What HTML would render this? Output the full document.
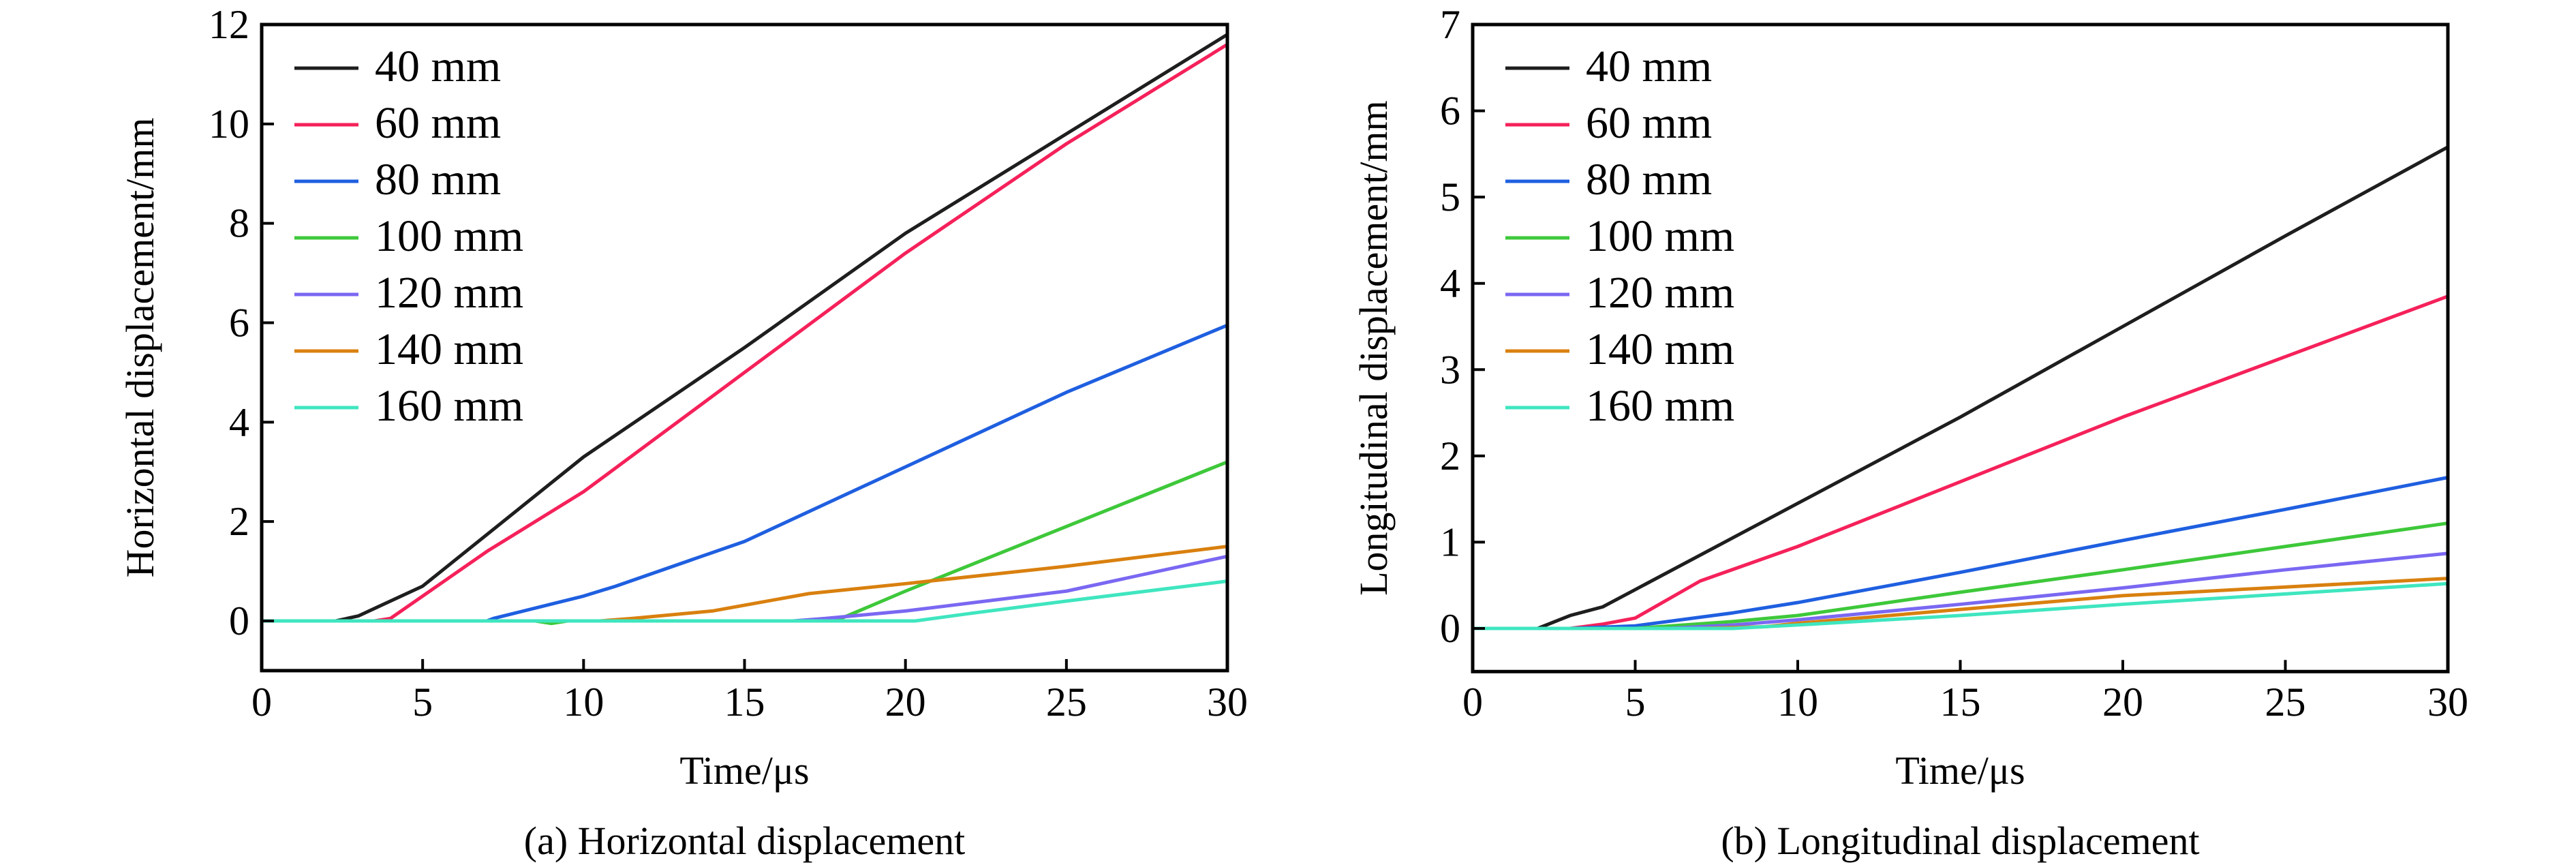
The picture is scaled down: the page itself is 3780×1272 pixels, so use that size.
<!DOCTYPE html>
<html><head><meta charset="utf-8"><style>
html,body{margin:0;padding:0;background:#fff}
svg{display:block;font-family:"Liberation Serif",serif}
</style></head><body>
<svg id="chart" width="3780" height="1272" viewBox="0 0 3780 1272" xmlns="http://www.w3.org/2000/svg"></svg>
<script>
const seriesNames = ["40 mm","60 mm","80 mm","100 mm","120 mm","140 mm","160 mm"];
const seriesColors = ["#1e1e1e","#f5215a","#1f5fe0","#3ec83a","#7a68f2","#d9800f","#3fe6bf"];
const xTicks = [0,5,10,15,20,25,30];
const yTicksA = [0,2,4,6,8,10,12];
const yTicksB = [0,1,2,3,4,5,6,7];
const dataA = [
 [[0,0],[2.3,0],[3,0.1],[5,0.7],[7.5,2],[10,3.3],[15,5.5],[20,7.8],[25,9.8],[30,11.8]],
 [[0,0],[3.5,0],[4,0.05],[5,0.5],[7,1.4],[10,2.6],[15,5],[20,7.4],[25,9.6],[30,11.6]],
 [[0,0],[7,0],[7.2,0.05],[10,0.5],[11,0.7],[15,1.6],[20,3.1],[25,4.6],[30,5.95]],
 [[0,0],[8.5,0],[9,-0.05],[9.5,0],[17,0],[18,0.05],[20,0.6],[25,1.9],[30,3.2]],
 [[0,0],[16.5,0],[17.5,0.05],[20,0.2],[25,0.6],[30,1.3]],
 [[0,0],[10.5,0],[11.5,0.05],[14,0.2],[17,0.55],[20,0.75],[25,1.1],[30,1.5]],
 [[0,0],[20.3,0],[22,0.15],[25,0.4],[30,0.8]]
];
const dataB = [
 [[0,0],[2,0],[3,0.15],[4,0.25],[5,0.45],[10,1.45],[15,2.45],[20,3.5],[25,4.55],[30,5.58]],
 [[0,0],[3,0],[4,0.05],[5,0.12],[7,0.55],[10,0.95],[15,1.7],[20,2.45],[25,3.15],[30,3.85]],
 [[0,0],[3,0],[5,0.03],[8,0.18],[10,0.3],[15,0.65],[20,1.02],[25,1.38],[30,1.75]],
 [[0,0],[5,0],[8,0.08],[10,0.15],[15,0.42],[20,0.68],[25,0.95],[30,1.22]],
 [[0,0],[6,0],[8,0.04],[10,0.1],[15,0.28],[20,0.47],[25,0.68],[30,0.87]],
 [[0,0],[7,0],[9,0.02],[10,0.06],[15,0.22],[20,0.38],[25,0.48],[30,0.58]],
 [[0,0],[8,0],[10,0.04],[15,0.15],[20,0.28],[25,0.4],[30,0.52]]
];
const NS="http://www.w3.org/2000/svg";
const svg=document.getElementById("chart");
function mk(tag,attrs,parent){const e=document.createElementNS(NS,tag);for(const k in attrs)e.setAttribute(k,attrs[k]);(parent||svg).appendChild(e);return e;}
function panel(cfg){
 const g=mk("g",{});
 
 
 const X=v=>cfg.L+(v-0)/30*(cfg.R-cfg.L);
 const Y=v=>cfg.y0-(v)*(cfg.y0-cfg.yTop)/cfg.ymax;
 const B=Y(cfg.ymin);
 cfg.data.forEach((s,i)=>{
  const p=mk("polyline",{points:s.map(d=>X(d[0])+","+Y(d[1])).join(" "),fill:"none",stroke:seriesColors[i],"stroke-width":5,"stroke-linejoin":"round"},g);
  
  
 });
 const fr=mk("rect",{x:cfg.L,y:cfg.yTop,width:cfg.R-cfg.L,height:B-cfg.yTop,fill:"none",stroke:"#000","stroke-width":5},g);
 
 
 xTicks.forEach(t=>{
  mk("line",{x1:X(t),x2:X(t),y1:B,y2:B-17,stroke:"#000","stroke-width":4},g);
  const tx=mk("text",{x:X(t),y:1050,"font-size":60,"text-anchor":"middle"},g);tx.textContent=t;
  
  
 });
 cfg.yt.forEach(t=>{
  mk("line",{x1:cfg.L,x2:cfg.L+18,y1:Y(t),y2:Y(t),stroke:"#000","stroke-width":4},g);
  const tx=mk("text",{x:cfg.L-18,y:Y(t)+20,"font-size":60,"text-anchor":"end"},g);tx.textContent=t;
  
  
 });
 const xt=mk("text",{x:(cfg.L+cfg.R)/2,y:1150,"font-size":58,"text-anchor":"middle"},g);xt.textContent="Time/μs";
 
 
 const ymid=(cfg.yTop+B)/2;
 const yt=mk("text",{x:cfg.ytx,y:ymid,"font-size":58,"text-anchor":"middle",transform:`rotate(-90 ${cfg.ytx} ${ymid})`},g);yt.textContent=cfg.ytitle;
 
 
 const cap=mk("text",{x:(cfg.L+cfg.R)/2,y:1253,"font-size":58,"text-anchor":"middle"},g);cap.textContent=cfg.caption;
 
 
 const lg=mk("g",{},g);
 
 
 const rows=[100,183,266,349,432,515,598];
 seriesNames.forEach((n,i)=>{
  const e=mk("g",{},lg);
  
  
  mk("line",{x1:cfg.lx,x2:cfg.lx+94,y1:rows[i],y2:rows[i],stroke:seriesColors[i],"stroke-width":5},e);
  const t=mk("text",{x:cfg.lx+118,y:rows[i]+19,"font-size":66},e);t.textContent=n;
 });
}
panel({name:"horizontal-displacement-chart",L:384,R:1801,yTop:36,y0:911,ymax:12,ymin:-1,yt:yTicksA,data:dataA,ytx:225,ytitle:"Horizontal displacement/mm",caption:"(a) Horizontal displacement",lx:432});
panel({name:"longitudinal-displacement-chart",L:2161,R:3592,yTop:36,y0:922,ymax:7,ymin:-0.5,yt:yTicksB,data:dataB,ytx:2035,ytitle:"Longitudinal displacement/mm",caption:"(b) Longitudinal displacement",lx:2209});
</script>
</body></html>
